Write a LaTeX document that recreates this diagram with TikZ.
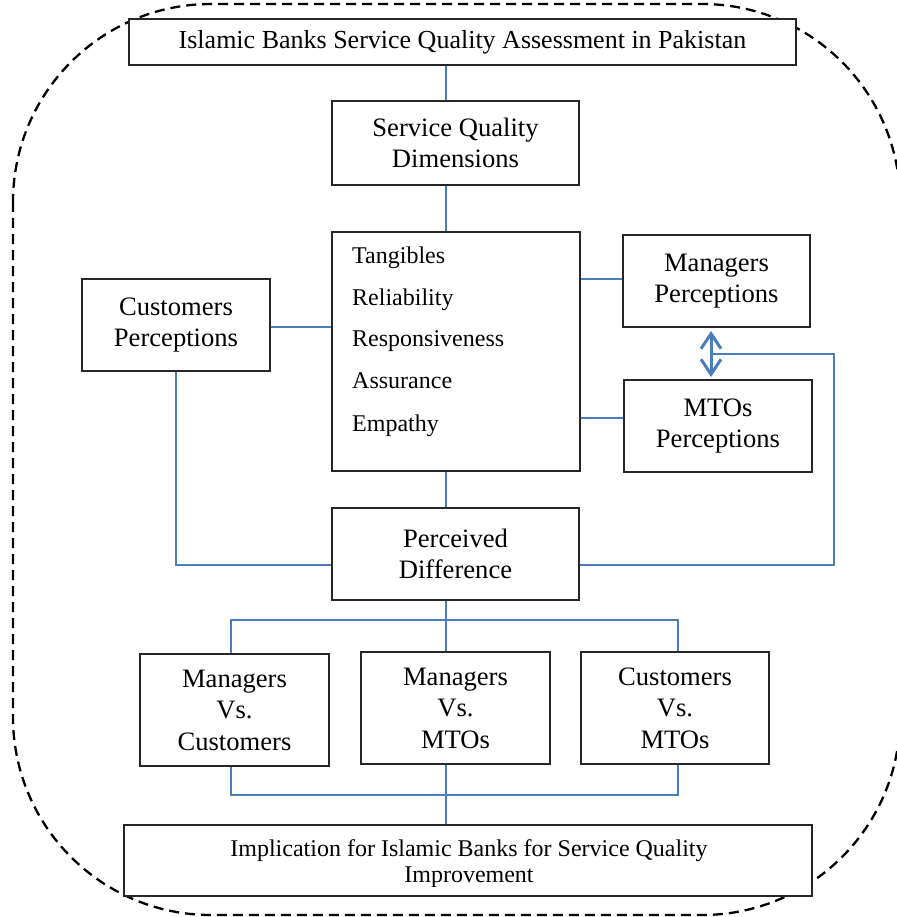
\documentclass[tikz,border=0pt]{standalone}
\usepackage{fontspec}
\setmainfont{Liberation Serif}
\usetikzlibrary{arrows.meta}
\definecolor{linkblue}{HTML}{4A7EBB}
\begin{document}
\begin{tikzpicture}[x=1pt,y=-1pt,
  box/.style={draw=black!85, fill=white, line width=1.4pt, inner sep=0pt, align=center,
    font=\fontsize{26.6}{31.5}\selectfont},
  conn/.style={draw=linkblue, line width=1.8pt},
  dbl/.style={draw=linkblue, line width=3pt,
    {Straight Barb[length=15pt,width=20pt]}-{Straight Barb[length=15pt,width=20pt]}},
  listtxt/.style={anchor=base west, inner sep=0pt, font=\fontsize{24}{28}\selectfont}]
\useasboundingbox (0,0) rectangle (896,917);

% outer dashed frame (its right side runs just past the page edge)
\draw[black, line width=2.3pt, dash pattern=on 10pt off 6pt, rounded corners=198pt]
  (13,4) rectangle (900,915);

% boxes
\node[box, minimum width=667, minimum height=46, font=\fontsize{26}{30}\selectfont] (top) at (462.5,42)
  {Islamic Banks Service Quality Assessment in Pakistan};
\node[box, minimum width=247, minimum height=84] (sqd) at (455.5,143) {Service Quality\\Dimensions};
\node[box, minimum width=248, minimum height=239] (dims) at (456,351.5) {};
\node[box, minimum width=187, minimum height=92] (mgr) at (716.5,281) {Managers\\Perceptions};
\node[box, minimum width=188, minimum height=92] (cust) at (176,325) {Customers\\Perceptions};
\node[box, minimum width=188, minimum height=92] (mto) at (718,426) {MTOs\\Perceptions};
\node[box, minimum width=247, minimum height=92] (pd) at (455.5,554) {Perceived\\Difference};
\node[box, minimum width=189, minimum height=112] (mvc) at (234.5,710) {Managers\\Vs.\\Customers};
\node[box, minimum width=189, minimum height=112] (mvm) at (455.5,708) {Managers\\Vs.\\MTOs};
\node[box, minimum width=188, minimum height=112] (cvm) at (675,708) {Customers\\Vs.\\MTOs};
\node[box, minimum width=688, minimum height=71] (impl) at (468,860.5) {};

% dimension list
\node[listtxt] (d1) at (352,263) {Tangibles};
\node[listtxt] (d2) at (352,305) {Reliability};
\node[listtxt] (d3) at (352,346) {Responsiveness};
\node[listtxt] (d4) at (352,388) {Assurance};
\node[listtxt] (d5) at (352,431) {Empathy};

% implication text, cut off by its box
\begin{scope}
  \clip (124,825) rectangle (812,886);
  \node[align=center, inner sep=0pt, font=\fontsize{24}{26}\selectfont] (impltxt) at (469,864)
    {Implication for Islamic Banks for Service Quality\\Improvement};
\end{scope}

% helper coordinates
\coordinate (spine) at (446,0);
\coordinate (bl) at (231,0);
\coordinate (br) at (678,0);
\coordinate (busU) at (0,620);
\coordinate (busD) at (0,795);
\coordinate (mtoin) at (0,418);
\coordinate (mgrin) at (0,279);
\coordinate (custout) at (0,327);
\coordinate (pdlow) at (0,565);
\coordinate (loop) at (834,354);
\coordinate (arrx) at (711,0);
\coordinate (arrtop) at (0,331);
\coordinate (arrbot) at (0,377);

% connectors
\draw[conn] (top.south -| spine) -- (sqd.north -| spine);
\draw[conn] (sqd.south -| spine) -- (dims.north -| spine);
\draw[conn] (dims.south -| spine) -- (pd.north -| spine);
\draw[conn] (custout -| cust.east) -- (custout -| dims.west);
\draw[conn] (mgrin -| dims.east) -- (mgrin -| mgr.west);
\draw[conn] (mtoin -| dims.east) -- (mtoin -| mto.west);
\draw[conn] (cust.south) |- (pdlow -| pd.west);
\draw[conn] (pdlow -| pd.east) -| (loop) -- (loop -| arrx);
\draw[dbl] (arrtop -| arrx) -- (arrbot -| arrx);

\draw[conn] (pd.south -| spine) -- (mvm.north -| spine);
\draw[conn] (mvc.north -| bl) -- (busU -| bl) -- (busU -| br) -- (cvm.north -| br);
\draw[conn] (mvc.south -| bl) -- (busD -| bl) -- (busD -| br) -- (cvm.south -| br);
\draw[conn] (mvm.south -| spine) -- (impl.north -| spine);
\end{tikzpicture}
\end{document}
